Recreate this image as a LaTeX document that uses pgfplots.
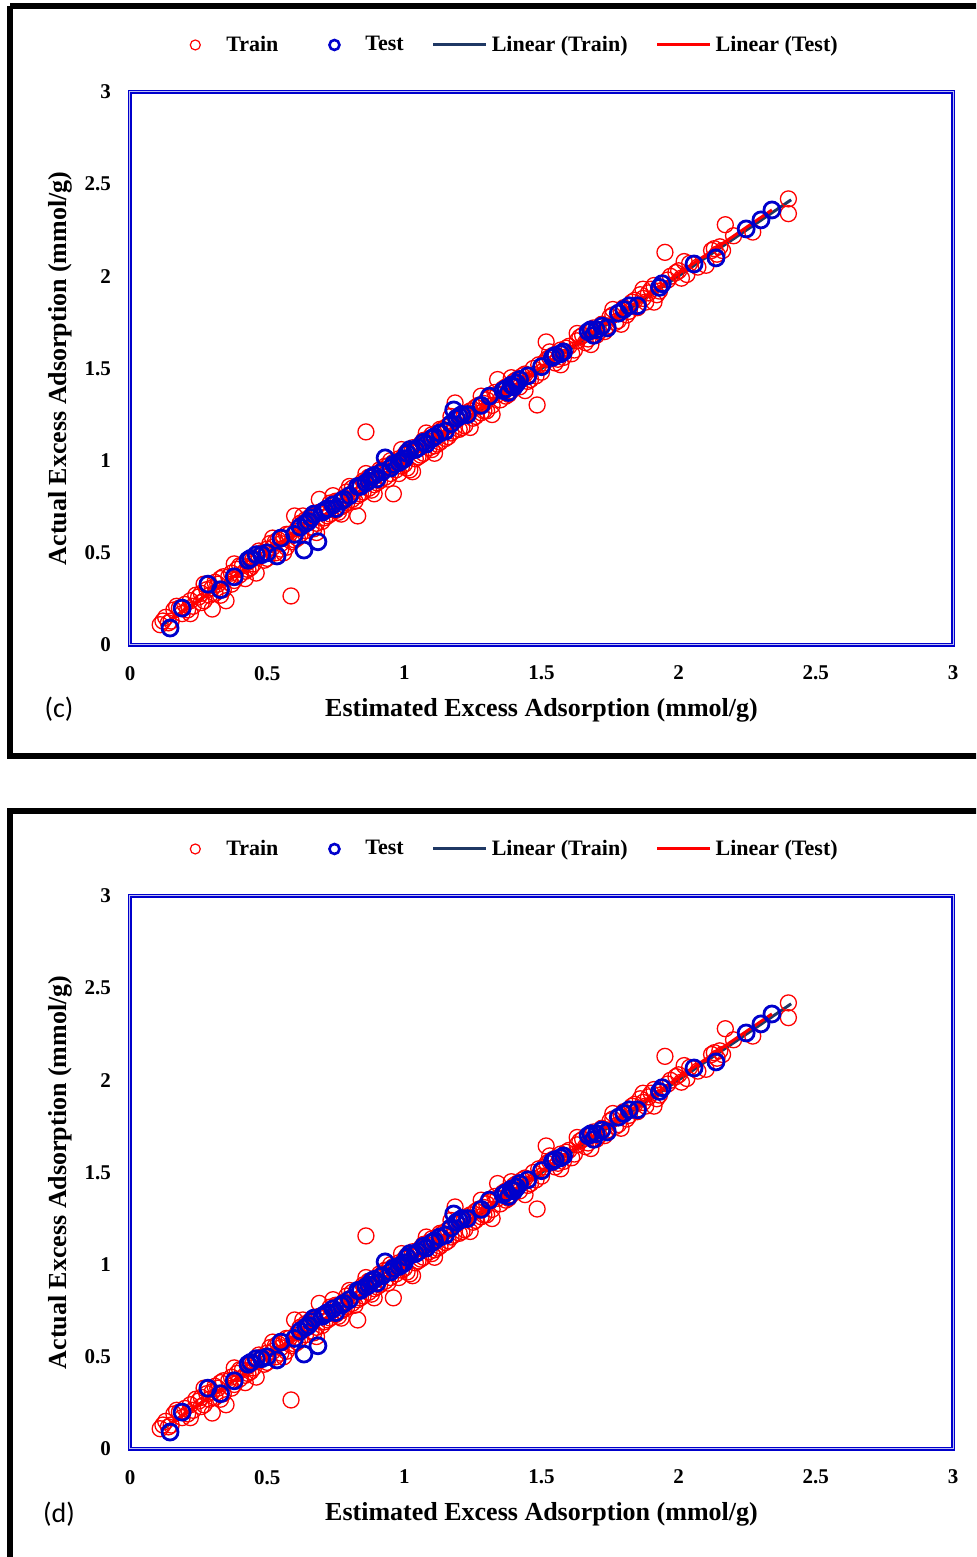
\documentclass[border=0pt]{standalone}
\usepackage{pgfplots}
\usepackage{pgfplotstable}
\pgfplotsset{compat=1.18}
\usepackage{fontspec}
\setmainfont{Liberation Serif}
\newfontfamily\calib{Carlito}
\definecolor{tblue}{RGB}{0,0,204}
\definecolor{tred}{RGB}{255,0,0}
\definecolor{tnavy}{RGB}{31,56,100}

\pgfplotstableread{
x y
0.11 0.11
0.13 0.15
0.15 0.13
0.16 0.19
0.17 0.21
0.19 0.17
0.20 0.22
0.22 0.24
0.23 0.21
0.25 0.26
0.26 0.28
0.27 0.24
0.28 0.30
0.30 0.195
0.30 0.31
0.31 0.28
0.32 0.33
0.33 0.36
0.34 0.30
0.35 0.24
0.36 0.37
0.37 0.39
0.38 0.35
0.39 0.41
0.40 0.38
0.41 0.43
0.42 0.40
0.43 0.45
0.44 0.42
0.45 0.47
0.46 0.39
0.47 0.48
0.48 0.50
0.49 0.46
0.50 0.52
0.52 0.53
0.53 0.50
0.54 0.57
0.55 0.55
0.56 0.58
0.57 0.53
0.587 0.266
0.58 0.60
0.60 0.70
0.60 0.57
0.61 0.63
0.62 0.60
0.63 0.66
0.64 0.62
0.65 0.68
0.66 0.64
0.67 0.70
0.68 0.66
0.69 0.79
0.70 0.72
0.71 0.69
0.72 0.74
0.73 0.71
0.74 0.76
0.75 0.73
0.76 0.78
0.77 0.75
0.78 0.80
0.79 0.77
0.80 0.86
0.81 0.79
0.82 0.84
0.83 0.70
0.83 0.81
0.84 0.87
0.85 0.83
0.86 1.156
0.86 0.89
0.87 0.85
0.88 0.91
0.89 0.87
0.90 0.93
0.91 0.89
0.92 0.95
0.93 0.91
0.94 0.97
0.95 0.93
0.96 0.82
0.96 0.99
0.97 0.95
0.98 1.01
0.99 0.97
1.00 1.03
1.01 0.96
1.02 1.05
1.03 0.94
1.04 1.06
1.05 1.02
1.06 1.09
1.07 1.04
1.08 1.11
1.09 1.07
1.10 1.14
1.11 1.08
1.12 1.15
1.13 1.10
1.14 1.17
1.15 1.12
1.16 1.19
1.17 1.15
1.185 1.313
1.19 1.22
1.20 1.17
1.21 1.24
1.22 1.19
1.23 1.26
1.25 1.23
1.26 1.29
1.28 1.26
1.29 1.31
1.30 1.27
1.31 1.34
1.33 1.37
1.34 1.44
1.35 1.33
1.37 1.40
1.38 1.36
1.40 1.43
1.42 1.40
1.43 1.46
1.45 1.43
1.47 1.50
1.484 1.302
1.49 1.52
1.50 1.48
1.517 1.644
1.52 1.55
1.54 1.57
1.55 1.53
1.57 1.60
1.58 1.56
1.60 1.62
1.62 1.60
1.64 1.67
1.66 1.64
1.68 1.70
1.70 1.68
1.72 1.74
1.73 1.70
1.75 1.78
1.77 1.75
1.79 1.81
1.81 1.79
1.83 1.86
1.85 1.83
1.86 1.90
1.88 1.86
1.90 1.93
1.92 1.90
1.95 2.13
1.96 1.98
1.99 2.02
2.01 1.99
2.04 2.07
2.07 2.05
2.12 2.14
2.14 2.12
2.15 2.16
2.17 2.28
2.20 2.22
2.27 2.24
2.40 2.42
2.40 2.34
0.12 0.13
0.14 0.12
0.18 0.20
0.21 0.19
0.24 0.27
0.26 0.23
0.29 0.27
0.31 0.34
0.34 0.37
0.37 0.33
0.40 0.43
0.43 0.41
0.45 0.44
0.47 0.51
0.50 0.47
0.51 0.55
0.53 0.56
0.55 0.52
0.57 0.60
0.59 0.56
0.61 0.58
0.62 0.66
0.64 0.68
0.66 0.70
0.67 0.63
0.69 0.72
0.70 0.67
0.72 0.70
0.73 0.77
0.75 0.78
0.76 0.72
0.78 0.76
0.79 0.83
0.81 0.85
0.82 0.78
0.84 0.82
0.85 0.89
0.87 0.91
0.88 0.84
0.90 0.88
0.91 0.95
0.93 0.97
0.94 0.90
0.95 1.00
0.97 0.99
0.98 0.93
1.00 0.98
1.01 1.05
1.03 1.07
1.04 1.01
1.06 1.03
1.07 1.11
1.09 1.12
1.10 1.06
1.12 1.09
1.13 1.17
1.15 1.18
1.16 1.13
1.18 1.16
1.19 1.23
1.21 1.18
1.22 1.25
1.24 1.27
1.26 1.24
1.27 1.30
1.29 1.27
1.30 1.33
1.32 1.30
1.34 1.36
1.36 1.39
1.37 1.35
1.39 1.38
1.41 1.44
1.44 1.47
1.46 1.44
1.48 1.46
1.51 1.53
1.53 1.56
1.56 1.55
1.59 1.61
1.61 1.58
1.63 1.65
1.65 1.68
1.67 1.66
1.69 1.72
1.71 1.70
1.74 1.73
1.76 1.79
1.78 1.76
1.80 1.83
1.82 1.81
1.84 1.87
1.87 1.88
1.89 1.91
1.91 1.95
1.93 1.92
1.97 2.00
2.00 2.03
2.03 2.01
2.13 2.15
2.16 2.14
0.42 0.36
0.38 0.44
0.52 0.58
0.56 0.50
0.63 0.70
0.68 0.61
0.74 0.81
0.77 0.71
0.86 0.93
0.89 0.82
0.99 1.06
1.02 0.95
1.08 1.15
1.11 1.04
1.17 1.24
1.24 1.18
1.28 1.35
1.32 1.25
1.39 1.45
1.44 1.38
1.53 1.59
1.57 1.52
1.63 1.69
1.68 1.63
1.76 1.82
1.79 1.74
1.87 1.93
1.91 1.86
2.02 2.08
2.10 2.06
0.27 0.33
0.22 0.17
0.33 0.27
}\traindata

\pgfplotstableread{
x y
0.146 0.092
0.19 0.20
0.284 0.33
0.33 0.30
0.38 0.37
0.43 0.46
0.46 0.49
0.50 0.50
0.536 0.483
0.55 0.58
0.60 0.60
0.634 0.515
0.64 0.66
0.66 0.69
0.685 0.56
0.70 0.72
0.72 0.74
0.75 0.74
0.78 0.79
0.80 0.81
0.83 0.86
0.86 0.88
0.88 0.91
0.90 0.90
0.93 1.015
0.95 0.96
0.98 0.99
1.00 1.01
1.02 1.06
1.05 1.07
1.07 1.10
1.10 1.12
1.13 1.15
1.18 1.275
1.20 1.24
1.23 1.25
1.28 1.30
1.31 1.35
1.36 1.38
1.39 1.41
1.42 1.44
1.45 1.46
1.50 1.51
1.54 1.56
1.57 1.58
1.67 1.70
1.70 1.71
1.74 1.72
1.80 1.82
1.85 1.84
1.93 1.94
2.056 2.067
2.136 2.10
2.246 2.257
2.30 2.306
2.34 2.36
0.44 0.47
0.48 0.49
0.62 0.64
0.65 0.67
0.67 0.71
0.71 0.73
0.74 0.76
0.77 0.78
0.84 0.86
0.87 0.89
0.89 0.92
0.92 0.94
0.96 0.98
0.99 1.00
1.01 1.04
1.04 1.06
1.08 1.09
1.11 1.13
1.15 1.16
1.17 1.20
1.19 1.23
1.21 1.25
1.37 1.39
1.38 1.37
1.40 1.40
1.41 1.42
1.55 1.57
1.58 1.59
1.68 1.71
1.69 1.68
1.72 1.73
1.78 1.80
1.82 1.84
1.94 1.96
}\testdata

\pgfplotsset{panel/.style={
  scale only axis, width=411.5pt, height=276.5pt,
  xmin=0, xmax=3, ymin=0, ymax=3,
  xtick={0,0.5,1,1.5,2,2.5,3}, ytick={0,0.5,1,1.5,2,2.5,3},
  major tick length=0pt,
  axis line style={draw=tblue, line width=0.8pt, double=tblue!25, double distance=0.5pt},
  /pgf/number format/assume math mode=true,
  ticklabel style={font=\fontsize{10.5}{12}\selectfont\bfseries},
  xticklabel style={yshift=-7pt},
  yticklabel style={xshift=-6pt},
  xlabel={Estimated Excess Adsorption (mmol/g)},
  ylabel={Actual Excess Adsorption (mmol/g)},
  label style={font=\fontsize{13}{15}\selectfont\bfseries},
  xlabel style={at={(axis description cs:0.5,-0.1175)}, anchor=center},
  ylabel style={at={(axis description cs:-0.085,0.5)}, anchor=center},
  legend columns=4,
  legend style={at={(axis description cs:0.455,1.085)}, anchor=center, draw=none, fill=none,
    font=\fontsize{11}{13}\selectfont\bfseries,
    /tikz/every even column/.append style={column sep=12pt}},
}}

\newcommand{\panelplots}{%
  \addplot[only marks, mark=o, mark size=4pt, tred, line width=0.65pt,
    legend image code/.code={\path[draw=none] (0pt,0pt) -- (27.5pt,0pt);\draw[tred,line width=0.6pt,mark=none] (14pt,0pt) circle[radius=2.5pt];}]
    table[x=x,y=y] {\traindata};
  \addlegendentry{Train}
  \addplot[only marks, mark=o, mark size=4pt, tblue, line width=1.4pt,
    legend image code/.code={\path[draw=none] (0pt,0pt) -- (27.5pt,0pt);\draw[tblue,line width=1.3pt,mark=none] (14pt,0pt) circle[radius=2.5pt];}]
    table[x=x,y=y] {\testdata};
  \addlegendentry{Test}
  \addplot[tnavy, line width=1.5pt, no marks,
    legend image code/.code={\draw[tnavy,line width=1.5pt] (0cm,0cm) -- (26.5pt,0cm);}]
    coordinates {(0.12,0.11) (2.41,2.415)};
  \addlegendentry{Linear (Train)}
  \addplot[tred, line width=1.5pt, no marks,
    legend image code/.code={\draw[tred,line width=1.5pt] (0cm,0cm) -- (26.5pt,0cm);}]
    coordinates {(0.15,0.14) (2.34,2.36)};
  \addlegendentry{Linear (Test)}
}

\begin{document}
\begin{tikzpicture}
\useasboundingbox (0pt,0pt) rectangle (488pt,778.5pt);
\begin{scope}
  \clip (0pt,0pt) rectangle (488pt,778.5pt);
  \draw[line width=3pt] (5pt,775.5pt) -- (500pt,775.5pt);
  \draw[line width=3pt] (500pt,400.25pt) -- (5pt,400.25pt) -- (5pt,775.5pt);
  \draw[line width=3pt] (500pt,372.75pt) -- (5pt,372.75pt) -- (5pt,-10pt);
\end{scope}
\begin{axis}[panel, at={(65pt,456pt)}, anchor=south west]
  \panelplots
\end{axis}
\node[font=\calib\fontsize{14}{16}\selectfont] at (29.5pt,424pt) {(c)};
\begin{axis}[panel, at={(65pt,54pt)}, anchor=south west]
  \panelplots
\end{axis}
\node[font=\calib\fontsize{14}{16}\selectfont] at (29.5pt,21.5pt) {(d)};
\end{tikzpicture}
\end{document}
